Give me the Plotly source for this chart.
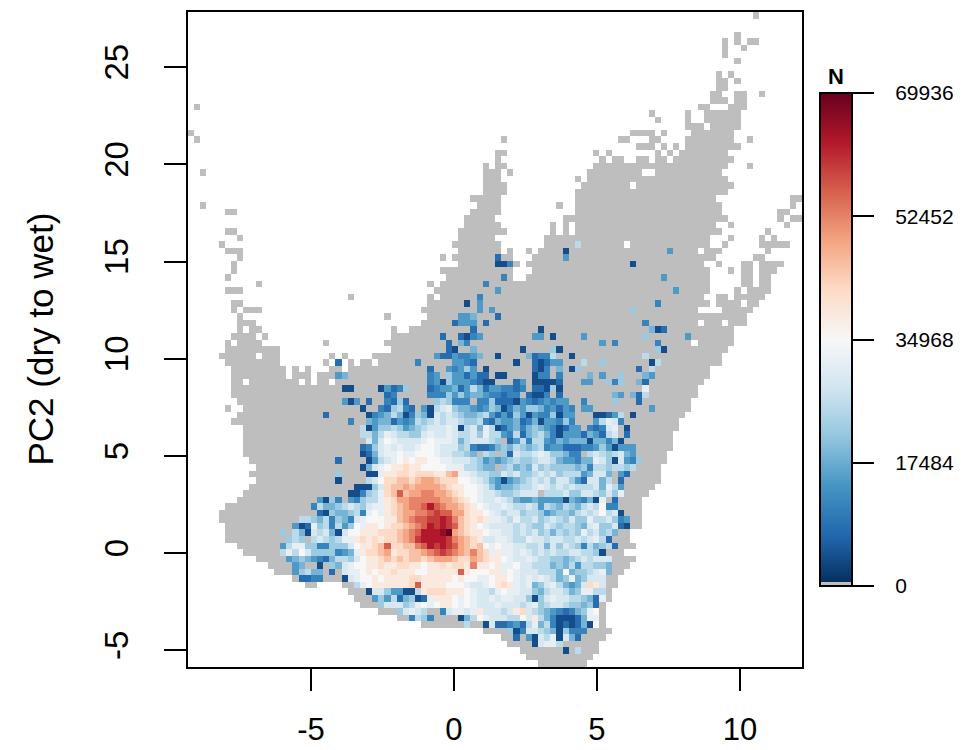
import re
import plotly.graph_objects as go

# Raster of N per climate cell, top row first, run-length coded:
# "_" no data, "#" N = 0, letters = N class (see CLASS_N).
CLASS_N = dict(a=4000, b=8000, c=11500, d=15000, e=18500, f=22000, g=25500, h=29000,
               i=32000, j=35000, k=38500, l=42000, m=45500, n=49000, o=52500, p=56000,
               q=59500, r=63000, s=66000, t=69936)
ROWS = [
"92_#", "", "", "89_#", "87_#_#_2#", "87_#2_#", "87_#", "89_#", "", "86_#_#",
"86_2#_#", "86_2#", "85_2#2_2#2_#", "85_3#_2#", "_#81_2#3_3#", "75_#5_#2_6#", "76_#4_#2_6#", "81_3#_5#",
"#71_4#_#4_7#", "_#49_#18_2#3_2#4_8#2_#", "73_3#_#_#_9#", "50_2#14_#_#7_#_#_8#", "50_#16_#_2#2_2#_2#_10#",
"48_#_2#14_22#3_#", "2_#45_3#_#12_9#2_11#", "48_3#12_#_23#", "48_4#12_8#_16#", "48_4#11_25#",
"46_5#12_23#12_2#", "2_#44_4#9_#2_24#11_#", "6_2#38_5#12_24#9_2#", "45_5#11_27#8_#_2#",
"45_6#8_#_#_23#2_#8_#", "6_2#36_8#7_#_#_24#7_#", "8_#35_6#8_27#3_#4_#_#",
"5_#37_8#7_5#g7#_13#2_#5_5#", "6_3#35_7#_#2_#_4#a16#d4#_3#7_#", "8_#32_#_7#b2#3_5#d24#6_2#",
"7_#36_6#2ac#_17#a11#2_#3_2#_4#", "7_#33_12#3_29#3_#_2#_3#", "6_#35_9#c#2_22#d7#5_2#_2#",
"11_#27_#_7#c36#5_2#_2#", "6_3#31_10#d28#d5#4_#_4#", "26_#12_#_6#c36#2_2#_5#",
"7_2#30_6#a#d28#c8#_4#_2#", "7_#_3#26_9#d#d22#f10#4_5#", "8_#23_#6_5#2de3#b40#",
"8_3#27_5#b3d#b25#c8#_3#_3#", "8_#_2#21_#2_10#b10#a17#eab11#",
"7_4#_#20_8#b2#bacd8#2d#a4#d9#f6#d7#", "6_#_4#10_#9_10#b#ec21#d#c6#c5#_6#",
"6_9#18_9#ba2#e7#a4#fa15#fa10#", "5_6#_3#8_#_#4_10#d2bd2cde2#a4#ebccg2#a11#g12#",
"6_9#7_#_b_#_2#_6#c5#2dcb6#a2#babdd3#g2#f7#ag10#",
"7_9#_#_#3_2#_13#b2#dcdfd#a7#bac#e#af9#b#g9#",
"7_9#_3#_3#de13#cd#fddbdbb#2a4#acc#c4#e#d2#f3#ed9#",
"7_2#_8#_#_2#_15#cdafdddcbaa3#bd#4ab3#2d2#fcf2#eb9#",
"7_18#2a4#adbcf3#bcddebdgebddccbc#bbafa13#i8#",
"7_25#bc5#cccfdfdeedccbcc#baac#b8#ed#ebg8#",
"8_17#dad#b2#cbfb4#fgfccc#ccfbbbadcbcdcdd2#c4#f3#b8#",
"6_#2_19#a2#cbfgcb#daghifeedcdfeacedffecdbdc#2d9#d6#",
"8_14#b6#acdegeacfeahghgfeefgdbdbfdadccfadd3#aabdg#a8#",
"7_19#c2#edeebdcdgfghghhgffgcbeddebceaddcfc3#dgihc9#",
"9_19#gadffgfdefghhhihagheigabdecefedcabdd#cbchi#a8#",
"9_19#ggegihggffhihhihgghfiggdcgbefgecadddbedbgh#b7#",
"9_20#hehjihhhhijiiiheghhhgf#bdgcggdcedeeeaeecea8#",
"9_19#bcfhihihhijjihhhfgcbbcefegfefgcddbbbccdfdaddd6#",
"9_19#abehiijiijjjihhggfe#gf#fbhgghihffecc#ghgfghed5#",
"10_14#b4#adghijkjkkjjiihhhgfdedefgffghhgeddceeihfahdcf4#",
"11_17#aehijkklkkjjjjiiiggfee#fgefehfgffffefcggfggfg4#",
"10_14#f4#aaikkllklllkkmniihggffhghffghghfgggdehhe#db5#",
"11_13#a4#ghjllmmlmnnmllljjihgedadefghghfhhfdbhheg#b6#",
"10_17#3afhlmmnmnnnnmlkkjjihfdeefgghihghghggghei" "gd5#",
"9_17#2acfgilmpmnnoonnmlkjjihhgffghhh#ggghffhhgfhfi4#",
"8_13#dafc#dcfggiklnnooooonnmlkjihhihgeddeddddaedceai#b4#",
"6_14#cgeefghgfhiiklmnoopr" "ponnmlkjihhihgghgdgfegfeghgjcc4#",
"5_16#bafeefgcijiklmnnoopqppnnlkkjihghhfggfdeffeghghjgha3#",
"5_13#ggfegcfechijjjkkmnoppqqrqomlklkiihgigghfghgfhffigghfcd2#",
"6_11#dabifgcgdfjikkjkllmnoprqrqpmlkjihhhhghgffhgfggfehiffhba2#",
"6_9#f#geahgheahjjkkklllmnoprrrstnmlkkjiihhghghfgegfgfighfge2#",
"6_10#fgf#ghgfgiiklklkllmnoqrrrrqonmlkhhiihggihhghhgghghigb3#",
"8_7#dgiiffccfffhjkklmpllmmoprqrqpnmlmjijiihhgghehfhgfcgefgb3#",
"9_6#gigjhffffcdeikllmnkllmmnopqponmomlikiihihghghgghhggfa3#",
"11_5#defedcbeggfhjkklmlmlmmlmnnnmllnmlkkjihhihggffefghghhh4#",
"13_4#de2#a#fehijjkklkkllkkjkklkllkokkjkiijhhgggefegdggffe3#",
"14_3#dfgee#b#hiijkjkklkkkjjkkkkkpkjjjkkijihhhgggejeffghie2#",
"17_#2b2c3#ahijjkjkkkkllkkkkkjkjjiijkkjihihihgefiefhhh2#",
"19_2#4_2#gijkkkkkklpkkkkjjjihhijklkihiefhigedehlkh2#",
"26_3#ahhfddaagklllkkkjihhgijiihhfeghhgefiigg#",
"27_3#dfdgbefabikkkjijihhihiihhfafhihhggfebi#",
"28_3#fhhhfgijijkkjijihhhihhhghifghhgffefb#",
"31_3#fhihg2#chiihikhhhghklhgfedcbcefij#",
"34_2#cgfc4#aegjihhhggjhkgecaaabeii#",
"38_7#g2#ahbbcdbgiegcababeaj#",
"48_4#fachhgfeafccc4#",
"51_2#b#dahgiaheb4#",
"52_4#ahiig6#",
"54_7#a#g3#",
"55_11#",
"57_8#",
]
N_COLS = 100
X_LIMITS = [-9.3, 12.17]
Y_LIMITS = [-5.86, 27.84]
X_TICKS = [-5, 0, 5, 10]
Y_TICKS = [-5, 0, 5, 10, 15, 20, 25]
BAR_TICKS = [0, 17484, 34968, 52452, 69936]
N_MAX = 69936


def decode(row):
    cells = []
    for count, ch in re.findall(r"(\d*)([_#a-t])", row):
        cells += [ch] * (int(count) if count else 1)
    cells = (cells + ["_"] * N_COLS)[:N_COLS]
    return [None if c == "_" else 0 if c == "#" else CLASS_N[c] for c in cells]


z = [decode(r) for r in ROWS]
n_rows = len(z)
dx = (X_LIMITS[1] - X_LIMITS[0]) / N_COLS
dy = (Y_LIMITS[1] - Y_LIMITS[0]) / n_rows
xs = [X_LIMITS[0] + dx * (i + 0.5) for i in range(N_COLS)]
ys = [Y_LIMITS[1] - dy * (j + 0.5) for j in range(n_rows)]

rdbu = ["#053061", "#2166ac", "#4393c3", "#92c5de", "#d1e5f0", "#f7f7f7",
        "#fddbc7", "#f4a582", "#d6604d", "#b2182b", "#67001f"]
gray_top = 0.008
scale = [[0, "#bebebe"], [gray_top, "#bebebe"], [gray_top, rdbu[0]]]
scale += [[k / 10, c] for k, c in enumerate(rdbu) if k > 0]

FONT = "Liberation Sans"
fig = go.Figure(go.Heatmap(
    x=xs, y=ys, z=z, zmin=0, zmax=N_MAX, colorscale=scale, hoverongaps=False,
    colorbar=dict(
        x=(820 - 188) / 614, xanchor="left", xpad=0, ypad=0,
        y=(667 - 586) / 655, yanchor="bottom", lenmode="pixels", len=493,
        thickness=32, outlinecolor="black", outlinewidth=2,
        ticks="outside", ticklen=21, tickwidth=2, tickcolor="black",
        tickvals=BAR_TICKS, ticktext=["\u00a0\u00a0\u00a0" + str(v) for v in BAR_TICKS],
        tickfont=dict(family=FONT, size=21, color="black"),
    ),
))
axis = dict(showline=True, mirror=True, linecolor="black", linewidth=2, showgrid=False, zeroline=False,
            ticks="outside", ticklen=22, tickwidth=2, tickcolor="black", automargin=False)
fig.update_xaxes(range=X_LIMITS, tickvals=X_TICKS, ticktext=[str(v) for v in X_TICKS],
                 tickfont=dict(family=FONT, size=31, color="black"), ticklabelstandoff=12, **axis)
fig.update_yaxes(range=Y_LIMITS, tickvals=Y_TICKS, ticktext=[str(v) for v in Y_TICKS],
                 tickfont=dict(family=FONT, size=33, color="black"),
                 tickangle=-90, ticklabelstandoff=23, **axis)
fig.add_annotation(text="PC2 (dry to wet)", textangle=-90, showarrow=False, xref="paper", yref="paper",
                   x=(40 - 188) / 614, y=0.5, xanchor="center", yanchor="middle",
                   font=dict(family=FONT, size=35, color="black"))
fig.add_annotation(text="<b>N</b>", showarrow=False, xref="paper", yref="paper",
                   x=(836 - 188) / 614, y=(667 - 76) / 655, xanchor="center", yanchor="middle",
                   font=dict(family=FONT, size=22, color="black"))
fig.update_layout(width=962, height=750, autosize=False, plot_bgcolor="white", paper_bgcolor="white",
                  margin=dict(l=188, r=160, t=12, b=83, autoexpand=False))
fig.write_html("out.html", config=dict(displayModeBar=False),
               post_script="document.body.style.margin='0';document.body.style.overflow='hidden';")
